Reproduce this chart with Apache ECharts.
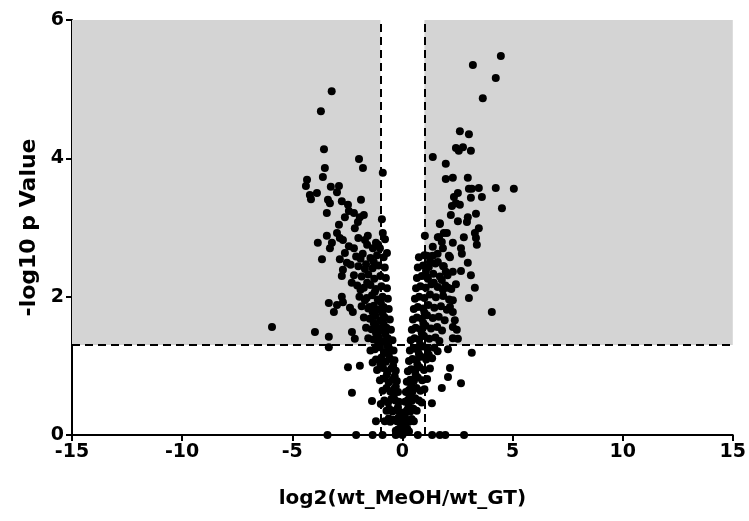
<!DOCTYPE html>
<html>
<head>
<meta charset="utf-8" />
<title>volcano</title>
<script src="https://cdn.jsdelivr.net/npm/echarts@6/dist/echarts.min.js"></script>
<style>
	html, body { margin: 0; padding: 0; background: #fff; }
	#chart-container { width: 749px; height: 521px; }
</style>
</head>
<body>
<div id="chart-container"></div>
<script>
	// tick values
	var xTicks = [-15, -10, -5, 0, 5, 10, 15];
	var yTicks = [0, 2, 4, 6];
	// cut-offs: log2 fold change and -log10(0.05)
	var foldCut = [-1, 1];
	var pCut = 1.3;

	// significant points, down-regulated side
	var upLeft = [
		[-3.21, 4.97], [-3.70, 4.68], [-3.56, 4.13], [-1.97, 3.99], [-1.79, 3.86], [-3.52, 3.86],
		[-3.61, 3.73], [-4.33, 3.69], [-4.38, 3.60], [-3.25, 3.59], [-2.88, 3.60], [-2.97, 3.51],
		[-4.20, 3.47], [-3.88, 3.50], [-4.15, 3.41], [-3.38, 3.40], [-3.29, 3.35], [-2.75, 3.38],
		[-1.88, 3.40], [-2.47, 3.33], [-2.43, 3.24], [-2.20, 3.21], [-3.43, 3.21], [-2.61, 3.15],
		[-1.75, 3.18], [-1.93, 3.15], [-2.02, 3.08], [-2.88, 3.04], [-2.16, 2.99], [-2.97, 2.92],
		[-3.43, 2.88], [-2.84, 2.85], [-3.84, 2.78], [-3.20, 2.78], [-2.70, 2.82], [-1.57, 2.88],
		[-1.70, 2.82], [-1.20, 2.78], [-3.29, 2.70], [-2.43, 2.73], [-2.61, 2.63], [-1.34, 2.70],
		[-0.89, 2.92], [-0.79, 2.83], [-0.89, 3.79], [-0.93, 3.12], [-0.70, 2.63], [-1.02, 2.70],
		[-5.92, 1.56], [-3.97, 1.49], [-3.34, 1.42], [-3.34, 1.27], [-3.65, 2.54], [-3.34, 1.91],
		[-2.97, 1.88], [-3.11, 1.78], [-2.75, 2.00], [-2.70, 1.92], [-2.38, 1.84], [-2.25, 1.78],
		[-2.29, 1.49], [-2.16, 1.39], [-2.70, 2.39], [-2.75, 2.30], [-2.52, 2.49], [-2.84, 2.54],
		[-2.47, 0.98], [-1.93, 1.00], [-2.29, 0.61], [-1.38, 0.49], [-0.98, 0.45], [-1.20, 0.20],
		[-0.80, 0.20],
		[-1.70, 2.40], [-1.90, 2.55], [-2.20, 2.70], [-1.60, 2.75], [-2.00, 2.85], [-1.50, 1.85],
		[-1.70, 1.95], [-1.90, 2.10], [-2.30, 2.20], [-1.60, 2.20], [-1.30, 2.50], [-1.10, 2.75]
	];

	// significant points, up-regulated side
	var upRight = [
		[4.47, 5.48], [3.20, 5.35], [4.24, 5.16], [3.65, 4.87], [2.61, 4.39], [3.02, 4.35],
		[2.43, 4.15], [2.75, 4.16], [2.56, 4.11], [3.11, 4.11], [1.38, 4.02], [1.97, 3.92],
		[1.97, 3.70], [2.29, 3.72], [2.97, 3.72], [3.02, 3.56], [3.15, 3.56], [3.47, 3.57],
		[4.24, 3.57], [5.06, 3.56], [2.52, 3.50], [2.34, 3.44], [3.11, 3.43], [3.61, 3.44],
		[2.43, 3.35], [2.61, 3.33], [2.25, 3.31], [4.52, 3.28], [2.20, 3.18], [3.34, 3.20],
		[2.97, 3.15], [2.52, 3.09], [2.93, 3.08], [1.70, 3.05], [3.47, 2.99], [2.02, 2.92],
		[3.29, 2.92], [2.79, 2.86], [3.34, 2.85], [1.02, 2.88], [1.61, 2.86], [1.79, 2.79],
		[2.29, 2.78], [1.38, 2.72], [1.84, 2.70], [2.66, 2.70], [3.38, 2.75], [2.11, 2.59],
		[1.11, 2.59], [1.38, 2.59], [2.97, 2.49], [2.70, 2.62], [2.16, 2.57], [2.66, 2.37],
		[3.11, 2.31], [3.29, 2.13], [3.02, 1.98], [2.29, 1.78], [4.06, 1.78], [2.29, 1.56],
		[2.52, 1.39], [2.07, 1.24], [3.15, 1.19], [2.16, 0.97], [2.07, 0.84], [2.66, 0.75],
		[1.79, 0.68], [1.34, 0.46], [1.70, 3.06], [1.88, 2.92], [1.66, 2.86], [2.29, 2.36],
		[2.43, 2.18], [2.07, 2.13], [1.84, 2.10], [2.29, 1.95], [2.16, 1.85], [2.38, 1.66],
		[2.47, 1.52], [2.29, 1.40],
		[1.25, 2.50], [1.61, 2.50], [1.88, 2.44], [1.97, 2.36], [1.79, 2.24], [1.43, 2.20],
		[1.16, 2.26], [1.07, 2.37]
	];

	// dense core, left arm
	var coreLeft = [
		[-0.05, 0.02], [-0.12, 0.05], [-0.20, 0.08], [-0.08, 0.10], [-0.30, 0.06],
		[-0.10, 0.18], [-0.25, 0.20], [-0.40, 0.22], [-0.55, 0.19], [-0.18, 0.25], [-0.62, 0.24],
		[-0.12, 0.33], [-0.28, 0.36], [-0.45, 0.34], [-0.60, 0.38], [-0.72, 0.35], [-0.20, 0.40],
		[-0.16, 0.48], [-0.32, 0.50], [-0.50, 0.52], [-0.65, 0.47], [-0.82, 0.50], [-0.40, 0.56],
		[-0.20, 0.62], [-0.38, 0.66], [-0.55, 0.63], [-0.72, 0.68], [-0.90, 0.64], [-0.30, 0.70],
		[-0.25, 0.78], [-0.45, 0.80], [-0.62, 0.76], [-0.80, 0.82], [-1.02, 0.79], [-0.35, 0.85], [-0.70, 0.88],
		[-0.30, 0.93], [-0.50, 0.96], [-0.68, 0.92], [-0.88, 0.97], [-1.15, 0.94], [-0.42, 1.00], [-1.00, 1.02],
		[-0.36, 1.08], [-0.55, 1.10], [-0.75, 1.06], [-0.95, 1.12], [-1.20, 1.09], [-1.35, 1.05], [-0.62, 1.16],
		[-0.40, 1.22], [-0.60, 1.25], [-0.82, 1.20], [-1.02, 1.27], [-1.25, 1.24], [-1.45, 1.22], [-0.70, 1.30], [-1.10, 1.32],
		[-0.45, 1.37], [-0.66, 1.40], [-0.88, 1.36], [-1.10, 1.42], [-1.32, 1.38], [-1.55, 1.40], [-0.78, 1.46], [-1.20, 1.48],
		[-0.52, 1.52], [-0.72, 1.55], [-0.95, 1.51], [-1.18, 1.57], [-1.40, 1.53], [-1.65, 1.55], [-0.85, 1.60], [-1.30, 1.62],
		[-0.57, 1.67], [-0.80, 1.70], [-1.00, 1.66], [-1.22, 1.72], [-1.48, 1.68], [-1.75, 1.70], [-0.90, 1.76], [-1.35, 1.78],
		[-0.62, 1.82], [-0.85, 1.85], [-1.08, 1.81], [-1.30, 1.87], [-1.55, 1.83], [-1.85, 1.86], [-0.98, 1.92],
		[-0.66, 1.97], [-0.90, 2.00], [-1.12, 1.96], [-1.38, 2.02], [-1.62, 1.98], [-1.95, 2.00], [-1.25, 2.07],
		[-0.70, 2.12], [-0.95, 2.15], [-1.20, 2.11], [-1.45, 2.17], [-1.75, 2.13], [-2.05, 2.16],
		[-0.75, 2.27], [-1.00, 2.30], [-1.28, 2.26], [-1.55, 2.32], [-1.85, 2.29], [-2.20, 2.31],
		[-0.80, 2.42], [-1.08, 2.45], [-1.35, 2.41], [-1.65, 2.47], [-2.00, 2.44], [-2.35, 2.46],
		[-0.85, 2.57], [-1.15, 2.60], [-1.45, 2.56], [-1.80, 2.62], [-2.10, 2.58]
	];

	// dense core, right arm
	var coreRight = [
		[0.05, 0.03], [0.12, 0.06], [0.22, 0.09], [0.30, 0.05], [0.08, 0.12],
		[0.06, 0.18], [0.18, 0.21], [0.30, 0.19], [0.42, 0.23], [0.52, 0.20], [0.12, 0.26],
		[0.10, 0.33], [0.22, 0.36], [0.36, 0.34], [0.50, 0.38], [0.65, 0.35], [0.28, 0.41],
		[0.12, 0.48], [0.26, 0.51], [0.42, 0.49], [0.58, 0.53], [0.75, 0.50], [0.88, 0.47], [0.35, 0.56],
		[0.16, 0.62], [0.30, 0.65], [0.46, 0.63], [0.64, 0.68], [0.82, 0.64], [1.00, 0.66], [0.40, 0.71],
		[0.20, 0.77], [0.36, 0.80], [0.52, 0.78], [0.70, 0.83], [0.90, 0.79], [1.12, 0.81], [0.60, 0.87],
		[0.25, 0.92], [0.40, 0.95], [0.58, 0.93], [0.78, 0.98], [0.98, 0.94], [1.25, 0.96], [0.68, 1.02],
		[0.30, 1.07], [0.46, 1.10], [0.64, 1.08], [0.85, 1.13], [1.08, 1.09], [1.35, 1.11], [0.75, 1.17], [1.20, 1.16],
		[0.34, 1.22], [0.50, 1.25], [0.70, 1.23], [0.92, 1.28], [1.15, 1.24], [1.45, 1.26], [1.60, 1.21], [0.80, 1.31],
		[0.38, 1.37], [0.55, 1.40], [0.76, 1.38], [0.98, 1.43], [1.22, 1.39], [1.50, 1.41], [1.68, 1.36], [0.88, 1.47],
		[0.43, 1.52], [0.60, 1.55], [0.82, 1.53], [1.05, 1.58], [1.30, 1.54], [1.58, 1.56], [1.80, 1.51], [0.95, 1.62],
		[0.48, 1.67], [0.66, 1.70], [0.88, 1.68], [1.12, 1.73], [1.38, 1.69], [1.65, 1.71], [1.92, 1.66], [1.00, 1.77],
		[0.52, 1.82], [0.70, 1.85], [0.94, 1.83], [1.18, 1.88], [1.45, 1.84], [1.75, 1.86], [2.02, 1.81],
		[0.57, 1.97], [0.76, 2.00], [1.00, 1.98], [1.25, 2.03], [1.52, 1.99], [1.85, 2.01], [2.12, 1.96],
		[0.62, 2.12], [0.82, 2.15], [1.06, 2.13], [1.32, 2.18], [1.60, 2.14], [1.95, 2.16], [2.22, 2.11],
		[0.66, 2.27], [0.88, 2.30], [1.12, 2.28], [1.40, 2.33], [1.70, 2.29], [2.05, 2.31],
		[0.70, 2.42], [0.94, 2.45], [1.20, 2.43], [1.50, 2.48], [1.85, 2.44],
		[0.75, 2.57], [1.00, 2.60], [1.28, 2.58], [1.60, 2.62]
	];

	// points sitting on the x axis (p = 1)
	var baseline = [
		[-3.40, 0], [-2.10, 0], [-1.35, 0], [-0.90, 0], [-0.30, 0], [0.00, 0],
		[0.70, 0], [1.35, 0], [1.70, 0], [1.95, 0], [2.80, 0]
	];

	var font = 'DejaVu Sans';
	var chart = echarts.init(document.getElementById('chart-container'));

	var option = {
		animation: false,
		backgroundColor: '#fff',
		grid: { left: 72, right: 16, top: 20, bottom: 86 },
		xAxis: {
			type: 'value',
			min: xTicks[0],
			max: xTicks[xTicks.length - 1],
			interval: 5,
			name: 'log2(wt_MeOH/wt_GT)',
			nameLocation: 'middle',
			nameGap: 54,
			nameTextStyle: { color: '#000', fontFamily: font, fontWeight: 'bold', fontSize: 20 },
			axisLine: { onZero: false, lineStyle: { color: '#000', width: 2 } },
			axisTick: { length: 6, lineStyle: { color: '#000', width: 2 } },
			axisLabel: { color: '#000', fontFamily: font, fontWeight: 'bold', fontSize: 19, margin: 8 },
			splitLine: { show: false }
		},
		yAxis: {
			type: 'value',
			min: yTicks[0],
			max: yTicks[yTicks.length - 1],
			interval: 2,
			name: '-log10 p Value',
			nameLocation: 'middle',
			nameGap: 32,
			nameTextStyle: { color: '#000', fontFamily: font, fontWeight: 'bold', fontSize: 22 },
			axisLine: { onZero: false, lineStyle: { color: '#000', width: 2 } },
			axisTick: { length: 6, lineStyle: { color: '#000', width: 2 } },
			axisLabel: { color: '#000', fontFamily: font, fontWeight: 'bold', fontSize: 19, margin: 8 },
			splitLine: { show: false }
		},
		series: [
			{
				// shaded significance regions
				type: 'scatter',
				data: [],
				z: 1,
				silent: true,
				markArea: {
					silent: true,
					itemStyle: { color: '#d4d4d4' },
					data: [
						[{ coord: [xTicks[0], pCut] }, { coord: [foldCut[0], yTicks[yTicks.length - 1]] }],
						[{ coord: [foldCut[1], pCut] }, { coord: [xTicks[xTicks.length - 1], yTicks[yTicks.length - 1]] }]
					]
				}
			},
			{
				// dashed cut-off lines
				type: 'scatter',
				data: [],
				z: 2,
				silent: true,
				markLine: {
					silent: true,
					symbol: 'none',
					label: { show: false },
					lineStyle: { color: '#000', width: 2, type: [8, 5] },
					data: [{ xAxis: foldCut[0] }, { xAxis: foldCut[1] }, { yAxis: pCut }]
				}
			},
			{ type: 'scatter', data: coreLeft, symbolSize: 8, itemStyle: { color: '#000', opacity: 1 }, z: 3 },
			{ type: 'scatter', data: coreRight, symbolSize: 8, itemStyle: { color: '#000', opacity: 1 }, z: 3 },
			{ type: 'scatter', data: upLeft, symbolSize: 8, itemStyle: { color: '#000', opacity: 1 }, z: 3 },
			{ type: 'scatter', data: upRight, symbolSize: 8, itemStyle: { color: '#000', opacity: 1 }, z: 3 },
			{ type: 'scatter', data: baseline, symbolSize: 8, itemStyle: { color: '#000', opacity: 1 }, z: 3 }
		]
	};
	chart.setOption(option);
</script>
</body>
</html>
